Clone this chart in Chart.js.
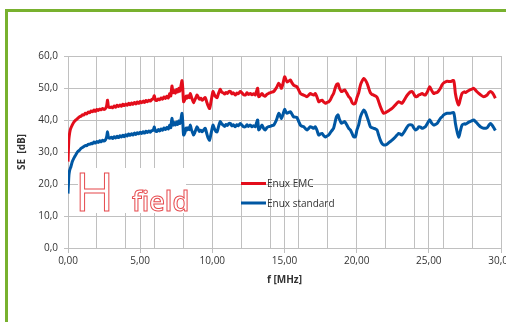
<!DOCTYPE html>
<html><head><meta charset="utf-8">
<script src="https://cdn.jsdelivr.net/npm/chart.js@4"></script>
<style>
html,body{margin:0;padding:0;background:#fff;}
#wrap{position:relative;width:506px;height:322px;overflow:hidden;}
#frame{position:absolute;left:5px;top:9px;width:510px;height:330px;border-top:3px solid #78b12e;border-left:3px solid #78b12e;box-sizing:border-box;}
canvas{position:absolute;left:0;top:0;}
</style></head>
<body><div id="wrap"><div id="frame"></div><canvas id="c" width="506" height="322"></canvas></div>
<script>
const freqMHz = [
0,0.03,0.06,0.1,0.15,0.2,0.3,0.4,0.5,0.6,0.7,0.8,0.9,1.0,
1.1,1.2,1.3,1.4,1.5,1.6,1.7,1.8,1.9,2.0,2.1,2.2,2.3,2.4,2.5,2.6,
2.68,2.74,2.8,2.9,
3.0,3.1,3.2,3.3,3.4,3.5,3.6,3.7,3.8,3.9,4.0,4.1,4.2,4.3,4.4,4.5,4.6,4.7,4.8,4.9,5.0,5.1,5.2,5.3,5.4,5.5,5.6,5.7,5.8,5.9,
5.98,6.05,6.15,6.25,6.35,6.45,6.55,6.65,6.75,6.85,6.95,
7.05,7.12,7.2,7.28,7.36,7.44,7.52,7.6,7.67,7.75,7.82,7.9,7.95,
8.01,8.1,8.18,8.24,8.32,8.4,8.47,8.55,8.62,8.7,8.78,8.86,8.94,9.02,9.1,9.2,9.29,9.4,9.51,9.6,9.7,9.81,9.9,
10.0,10.05,10.15,10.25,10.33,10.42,10.5,10.55,10.65,10.75,10.85,10.95,11.05,11.15,11.25,11.35,11.45,11.59,11.7,11.8,11.94,
12.05,12.15,12.29,12.4,12.5,12.63,12.75,12.85,12.98,13.05,13.14,13.21,13.3,13.44,13.55,13.67,13.78,13.9,
14.0,14.1,14.25,14.4,14.5,14.6,14.7,14.79,14.9,15.01,15.1,15.17,15.3,15.41,15.52,15.63,15.75,15.86,15.98,
16.1,16.2,16.33,16.45,16.56,16.68,16.79,16.9,17.02,17.14,17.25,17.37,17.48,17.6,17.72,17.83,17.95,
18.06,18.2,18.3,18.4,18.5,18.6,18.71,18.8,18.94,19.05,19.17,19.3,19.45,19.56,19.68,19.79,19.91,
20.02,20.14,20.26,20.38,20.49,20.6,20.72,20.83,20.95,21.06,21.18,21.3,21.41,21.52,21.64,21.75,21.87,
22.0,22.1,22.25,22.45,22.68,22.8,22.91,23.02,23.14,23.25,23.37,23.48,23.6,23.72,23.84,23.95,
24.07,24.2,24.3,24.42,24.53,24.65,24.76,24.9,25.06,25.2,25.34,25.45,25.57,25.7,25.8,25.92,
26.03,26.26,26.49,26.72,26.84,26.95,27.07,27.18,27.3,27.45,27.55,27.65,27.8,27.95,
28.11,28.3,28.46,28.6,28.8,29.04,29.15,29.27,29.4,29.5,29.61
];
const enuxEMC = [
27.0,31,34,35.5,36.8,37.5,38.5,39.3,39.8,40.2,40.6,41.0,41.2,41.6,
41.6,42.1,41.9,42.5,42.3,42.8,42.6,43.1,42.7,43.3,43.0,43.4,43.2,43.6,43.3,43.6,
44.5,46.2,44.2,43.9,
44.1,43.8,44.4,44.0,44.6,44.2,44.7,44.3,44.9,44.5,45.0,44.6,45.2,44.8,45.3,44.9,45.5,45.0,45.6,45.2,45.8,45.4,45.9,45.5,46.1,45.7,46.2,45.9,46.4,46.6,
47.6,46.3,46.1,46.6,46.3,46.9,46.5,47.2,46.7,47.4,46.9,
48.3,47.5,50.6,48.5,49.2,48.4,49.5,48.8,49.9,49.0,50.5,52.3,50.0,
45.7,46.5,47.5,46.8,47.6,47.0,48.3,47.2,46.3,45.4,46.2,47.0,47.8,47.2,46.5,46.8,46.2,46.6,47.0,45.8,44.5,43.6,45.5,
48.0,48.9,47.8,47.2,47.0,48.2,49.1,49.6,48.7,48.5,48.1,48.6,48.3,48.9,48.9,48.2,48.5,47.8,48.4,48.2,48.9,
48.5,48.0,47.8,48.5,48.0,48.3,47.9,48.2,47.8,48.8,49.9,47.3,47.6,48.3,47.6,47.5,48.0,48.3,
48.5,48.7,48.9,49.8,50.6,51.5,50.8,49.9,51.5,53.5,52.6,51.9,52.2,52.5,51.6,50.9,50.6,50.4,49.4,
48.3,48.0,47.8,47.5,47.3,47.8,48.3,48.0,47.8,48.3,47.2,45.7,46.0,46.2,45.6,45.2,45.5,
45.7,46.5,47.5,48.3,49.8,51.0,51.3,50.0,48.9,49.1,49.4,48.5,47.3,46.8,45.5,45.0,45.3,
47.0,48.5,50.9,52.2,53.0,52.5,51.5,50.0,48.5,48.0,47.8,47.5,47.1,45.8,44.2,43.0,42.1,
42.3,42.6,43.0,43.6,44.7,45.3,45.7,45.5,45.2,45.9,46.8,47.6,48.3,48.8,48.9,48.2,
47.3,47.4,47.8,48.0,48.3,47.9,47.8,48.8,50.4,49.2,48.3,48.5,48.6,49.2,49.9,51.0,
51.6,52.1,52.0,52.3,48.3,46.0,44.7,46.5,48.3,48.8,48.6,48.9,49.3,49.6,
49.9,49.0,48.3,47.8,47.3,47.8,48.5,48.9,48.5,47.8,46.8
];
const enuxStandard = [
17.0,20.0,22.5,24.0,24.8,25.4,27.0,28.0,28.8,29.6,30.2,30.6,31.1,31.4,
31.7,32.0,32.0,32.4,32.4,32.7,32.6,33.1,32.8,33.3,33.0,33.5,33.2,33.7,33.4,33.8,
34.8,36.3,34.6,34.3,
34.6,34.2,34.8,34.4,34.9,34.5,35.1,34.7,35.2,34.8,35.4,35.0,35.6,35.2,35.7,35.3,35.9,35.5,36.0,35.7,36.2,35.8,36.3,35.9,36.5,36.1,36.6,36.2,36.7,36.8,
37.8,36.6,36.4,37.0,36.6,37.2,36.8,37.5,37.0,37.7,37.2,
38.4,37.6,40.5,38.4,39.2,38.4,39.4,38.6,39.7,38.9,40.0,42.1,39.5,
35.3,36.0,37.5,36.9,37.6,37.0,38.4,37.0,36.2,35.3,36.0,37.0,37.9,37.2,36.4,36.8,36.3,36.9,37.4,36.0,34.5,33.7,35.5,
37.6,38.4,37.2,36.4,36.3,37.8,39.0,39.5,38.8,38.4,38.0,38.6,38.3,38.9,38.9,38.2,38.5,37.9,38.5,38.2,38.9,
38.4,37.9,37.9,38.5,38.0,38.4,37.9,38.2,37.9,38.9,40.0,36.9,37.4,38.4,37.4,36.9,37.6,37.9,
38.0,38.2,38.4,39.6,40.8,42.1,41.3,40.5,41.8,43.3,42.5,42.1,42.4,42.6,41.8,41.0,40.9,40.8,39.6,
38.4,38.1,37.9,37.3,36.9,37.4,37.9,37.7,37.4,37.9,36.8,35.3,35.6,35.8,35.1,34.7,35.0,
35.3,36.2,36.8,37.4,39.2,41.0,41.6,40.3,39.0,39.2,39.5,38.6,37.4,36.9,35.8,34.8,34.7,
36.9,38.5,41.0,42.3,43.1,42.5,41.0,39.5,37.9,37.6,37.4,37.2,36.9,35.3,33.7,32.7,32.2,
32.2,32.4,33.0,33.7,34.7,35.3,35.8,35.6,35.3,36.0,36.9,37.7,38.4,38.5,38.4,37.6,
36.9,37.2,37.9,37.8,37.4,37.6,37.9,38.9,40.1,39.0,38.4,38.6,38.9,39.8,40.5,41.0,
41.6,42.1,42.1,42.3,39.0,36.5,34.6,36.5,38.4,38.8,38.7,39.0,39.4,39.7,
40.0,39.2,38.4,37.8,37.4,37.6,38.3,38.9,38.3,37.6,36.7
];
const seriesNames = ["Enux EMC", "Enux standard"];
const xGridValues = [0,2,4,5,6,8,10,12,14,15,16,18,20,22,24,25,26,28,30];
const yTicks = [0,10,20,30,40,50,60];
const xTitle = "f [MHz]";
const yTitle = "SE  [dB]";

const RED = "#e30d1b", BLUE = "#0057a3", GRID = "#c0c0c0", TXT = "#333333";
const FONT = "'Open Sans', 'DejaVu Sans', sans-serif";

const overlay = {
  id: 'overlay',
  afterDraw(chart) {
    const ctx = chart.ctx;
    ctx.save();
    // logo
    ctx.fillStyle = '#ffffff';
    ctx.fillRect(78, 168, 108, 45);
    ctx.lineWidth = 1;
    ctx.strokeStyle = '#e64b4f';
    ctx.textBaseline = 'alphabetic';
    ctx.font = "400 53px " + FONT;
    ctx.strokeText("H", 75, 211);
    ctx.font = "600 27px " + FONT;
    ctx.strokeText("field", 132, 211);
    // legend
    const cols = [RED, BLUE];
    const ly = [183.5, 203];
    ctx.font = "10px " + FONT;
    ctx.textBaseline = 'middle';
    for (let i = 0; i < 2; i++) {
      ctx.strokeStyle = cols[i];
      ctx.lineWidth = 3;
      ctx.beginPath(); ctx.moveTo(241, ly[i]); ctx.lineTo(266, ly[i]); ctx.stroke();
      ctx.fillStyle = TXT;
      ctx.fillText(seriesNames[i], 267, ly[i] + 1);
    }
    ctx.restore();
  }
};

const mk = (vals) => freqMHz.map((f, i) => ({x: f, y: vals[i]}));

new Chart(document.getElementById('c'), {
  type: 'line',
  data: { datasets: [
    { label: seriesNames[0], data: mk(enuxEMC), borderColor: RED, borderWidth: 3, pointRadius: 0, tension: 0.25, fill: false },
    { label: seriesNames[1], data: mk(enuxStandard), borderColor: BLUE, borderWidth: 3, pointRadius: 0, tension: 0.25, fill: false }
  ]},
  options: {
    responsive: false, animation: false, devicePixelRatio: 1,
    layout: { padding: { left: 8, top: 56, right: 5, bottom: 30 } },
    plugins: { legend: { display: false }, tooltip: { enabled: false } },
    scales: {
      x: {
        type: 'linear', min: 0, max: 30,
        afterBuildTicks: (s) => { s.ticks = xGridValues.map(v => ({value: v})); },
        afterFit: (s) => { s.height = 44; s.paddingLeft = 0; s.paddingRight = 0; },
        ticks: { autoSkip: false, maxRotation: 0, color: TXT, font: { size: 10, family: FONT }, padding: 2,
          callback: (v) => (v % 5 === 0 ? v.toFixed(2).replace('.', ',') : '') },
        grid: { color: GRID, lineWidth: 1, tickLength: 5,
          tickColor: (c) => (c.tick && c.tick.value % 5 === 0 ? GRID : 'rgba(0,0,0,0)') },
        border: { color: GRID },
        title: { display: true, text: xTitle, color: TXT, font: { size: 10, weight: 'bold', family: FONT }, padding: { top: 0, bottom: 6 } }
      },
      y: {
        min: 0, max: 60,
        afterBuildTicks: (s) => { s.ticks = yTicks.map(v => ({value: v})); },
        afterFit: (s) => { s.width = 60; },
        ticks: { color: TXT, font: { size: 10, family: FONT }, padding: 6,
          callback: (v) => v.toFixed(1).replace('.', ',') },
        grid: { color: GRID, lineWidth: 1, tickLength: 4 },
        border: { color: GRID },
        title: { display: true, text: yTitle, color: TXT, font: { size: 10, weight: 'bold', family: FONT }, padding: { top: 8, bottom: 0 } }
      }
    }
  },
  plugins: [overlay]
});
</script></body></html>
